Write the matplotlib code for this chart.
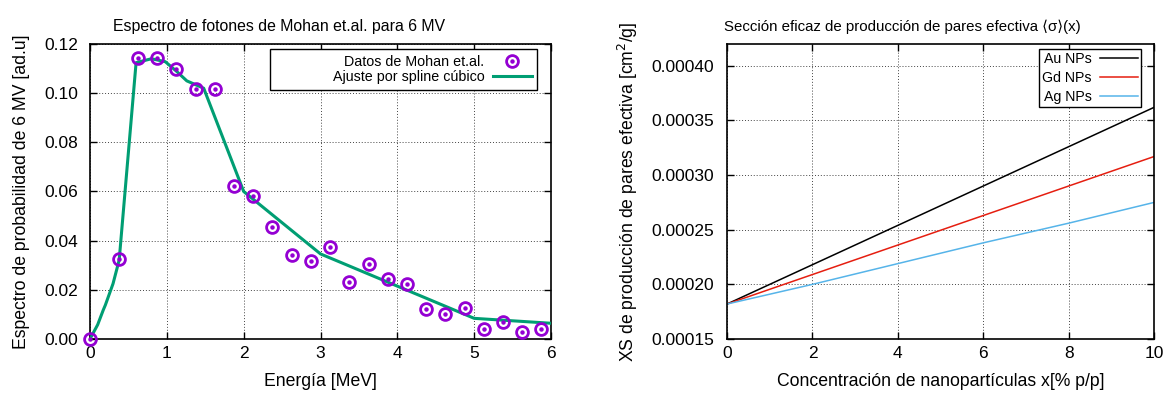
import matplotlib
matplotlib.use('Agg')
import matplotlib.pyplot as plt
from matplotlib.ticker import FormatStrFormatter, MultipleLocator
from matplotlib.legend_handler import HandlerTuple

plt.rcParams['font.family'] = ['Liberation Sans', 'DejaVu Sans']
plt.rcParams['font.size'] = 12.7

# espectro de Mohan et.al. (6 MV)
energia = [0.0, 0.375, 0.625, 0.875, 1.125, 1.375, 1.625, 1.875, 2.125, 2.375,
           2.625, 2.875, 3.125, 3.375, 3.625, 3.875, 4.125, 4.375, 4.625, 4.875,
           5.125, 5.375, 5.625, 5.875]
espectro = [0.0, 0.0325, 0.1143, 0.1143, 0.1098, 0.1017, 0.1017, 0.0622, 0.0582, 0.0456,
            0.0342, 0.0317, 0.0374, 0.0232, 0.0305, 0.0244, 0.0224, 0.0122, 0.0102, 0.0126,
            0.0041, 0.0069, 0.0028, 0.0041]

# ajuste por spline
energia_fit = [0.0, 0.1, 0.173, 0.2, 0.3, 0.38, 0.6, 0.8, 0.98, 1.13, 1.26, 1.48,
               2.0, 3.0, 5.0, 6.0]
espectro_fit = [0.0, 0.0058, 0.0118, 0.0138, 0.0225, 0.0321, 0.1124, 0.1140, 0.1128,
                0.1088, 0.1050, 0.1020, 0.0600, 0.0346, 0.0084, 0.0064]

# seccion eficaz efectiva vs concentracion
conc = [0, 2, 4, 6, 8, 10]
xs_au = [0.000182, 0.000218, 0.000254, 0.000290, 0.000326, 0.000362]
xs_gd = [0.000182, 0.000209, 0.000236, 0.000263, 0.000290, 0.000317]
xs_ag = [0.000182, 0.000200, 0.000219, 0.000238, 0.000256, 0.000275]

violeta = '#9400d3'
verde = '#009e73'


def estilo_gnuplot(ax, ypad):
    ax.grid(True, color='#444444', linestyle=(0, (1, 2)), linewidth=0.7)
    ax.set_axisbelow(True)
    ax.tick_params(direction='in', top=True, right=True, length=5, width=1,
                   labelsize=12.5)
    ax.tick_params(axis='x', pad=5)
    ax.tick_params(axis='y', pad=ypad)
    for s in ax.spines.values():
        s.set_linewidth(1.2)


def alinear_derecha(leg, ancho=None):
    # texto alineado a la derecha, como en gnuplot
    for col in leg._legend_handle_box.get_children():
        col.align = 'right'
        if ancho is not None:
            col.width = ancho


fig = plt.figure(figsize=(11.67, 3.97), dpi=100)
ax1 = fig.add_axes([0.0771, 0.1461, 0.3951, 0.7431])
ax2 = fig.add_axes([0.6230, 0.1461, 0.3659, 0.7431])

# panel izquierdo
fit_line, = ax1.plot(energia_fit, espectro_fit, color=verde, lw=2.2, zorder=3)
ring, = ax1.plot(energia, espectro, linestyle='none', marker='o', ms=8.5,
                 mfc='none', mec=violeta, mew=2.0, zorder=4, clip_on=False)
dot, = ax1.plot(energia, espectro, linestyle='none', marker='o', ms=2.2,
                mfc=violeta, mec=violeta, zorder=4, clip_on=False)
ax1.set_xlim(0, 6)
ax1.set_ylim(0, 0.12)
ax1.xaxis.set_major_locator(MultipleLocator(1))
ax1.yaxis.set_major_locator(MultipleLocator(0.02))
ax1.yaxis.set_major_formatter(FormatStrFormatter('%.2f'))
estilo_gnuplot(ax1, 8.5)
ax1.set_title('Espectro de fotones de Mohan et.al. para 6 MV', fontsize=11.4,
              x=0.41, pad=9)
ax1.set_xlabel('Energía [MeV]', labelpad=9)
ax1.set_ylabel('Espectro de probabilidad de 6 MV [ad.u]', labelpad=10)
leg1 = ax1.legend([(ring, dot), fit_line],
                  ['Datos de Mohan et.al.', 'Ajuste por spline cúbico'],
                  handler_map={tuple: HandlerTuple(ndivide=1)},
                  loc='upper right', bbox_to_anchor=(0.97, 0.982),
                  markerfirst=False, fancybox=False, edgecolor='black',
                  framealpha=1, labelspacing=0.1, handlelength=2.7,
                  borderpad=0.4, handletextpad=0.6, borderaxespad=0,
                  fontsize=10.3)
leg1.get_frame().set_linewidth(1.0)
alinear_derecha(leg1, 256)

# panel derecho
ax2.plot(conc, xs_au, color='black', lw=1.1, label='Au NPs')
ax2.plot(conc, xs_gd, color='#e51e10', lw=1.1, label='Gd NPs')
ax2.plot(conc, xs_ag, color='#56b4e9', lw=1.1, label='Ag NPs')
ax2.set_xlim(0, 10)
ax2.set_ylim(0.00015, 0.00042)
ax2.xaxis.set_major_locator(MultipleLocator(2))
ax2.yaxis.set_major_locator(MultipleLocator(0.00005))
ax2.yaxis.set_major_formatter(FormatStrFormatter('%.5f'))
estilo_gnuplot(ax2, 9.5)
ax2.set_title('Sección eficaz de producción de pares efectiva ⟨σ⟩(x)',
              fontsize=10.8, x=0.41, pad=9)
ax2.set_xlabel('Concentración de nanopartículas x[% p/p]', labelpad=9)
ax2.set_ylabel('XS de producción de pares efectiva [cm$^2$/g]', labelpad=8)
leg2 = ax2.legend(loc='upper right', bbox_to_anchor=(0.97, 0.982),
                  markerfirst=False, fancybox=False, edgecolor='black',
                  framealpha=1, labelspacing=0.35, handlelength=2.7,
                  borderpad=0.2, handletextpad=0.6, borderaxespad=0,
                  fontsize=10.2)
leg2.get_frame().set_linewidth(1.0)
alinear_derecha(leg2)

fig.savefig('out.png', dpi=100)
